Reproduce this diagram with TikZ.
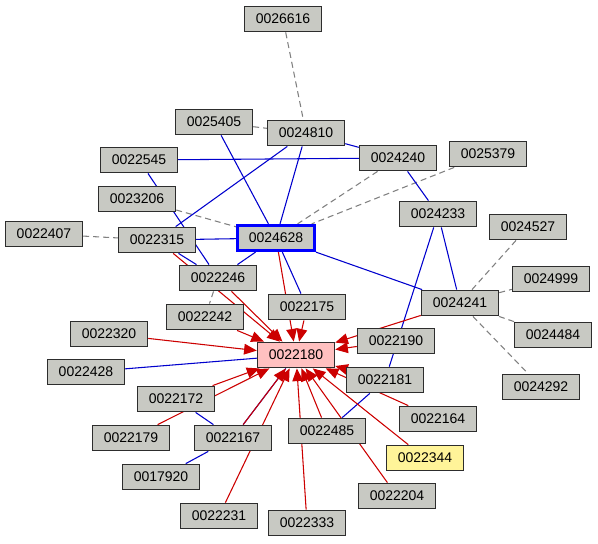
\documentclass[tikz,border=0pt]{standalone}
\usepackage{fontspec}
\setmainfont{Liberation Sans}
\usepackage{xcolor}
\usetikzlibrary{arrows.meta, backgrounds}

\definecolor{boxgray}{RGB}{200,201,195}
\definecolor{boxline}{RGB}{45,45,45}
\definecolor{targetpink}{RGB}{255,192,192}
\definecolor{sourceyellow}{RGB}{255,244,153}
\definecolor{linkblue}{RGB}{0,0,205}
\definecolor{citered}{RGB}{204,0,0}
\definecolor{weakgray}{RGB}{128,128,128}

\begin{document}
\begin{tikzpicture}[
          x=0.75pt, y=-0.75pt,
          box/.style={rectangle, draw=boxline, line width=1.1pt, fill=boxgray,
            minimum width=57.75pt, minimum height=19pt, inner sep=0pt,
            font=\fontsize{10.5}{12}\selectfont},
          link/.style={draw=linkblue, line width=0.8pt},
          cite/.style={draw=citered, line width=0.8pt, -{Triangle[length=9.5pt, width=8pt]}},
          weak/.style={draw=weakgray, line width=0.8pt, dash pattern=on 4.5pt off 3pt}
        ]
          \useasboundingbox (0,0) rectangle (598,543);

          % papers
          \node[box] (n0026616) at (283,19) {0026616};
          \node[box] (n0025405) at (214,122) {0025405};
          \node[box] (n0024810) at (306,133) {0024810};
          \node[box] (n0024240) at (398,158) {0024240};
          \node[box] (n0025379) at (488,154) {0025379};
          \node[box] (n0022545) at (139,160) {0022545};
          \node[box] (n0023206) at (137,199) {0023206};
          \node[box] (n0022407) at (44,234) {0022407};
          \node[box] (n0022315) at (157,240) {0022315};
          \node[box, draw=blue, line width=2.2pt] (n0024628) at (276,238) {0024628};
          \node[box] (n0024233) at (438,214) {0024233};
          \node[box] (n0024527) at (528,227) {0024527};
          \node[box] (n0024999) at (551,279) {0024999};
          \node[box] (n0024241) at (460,303) {0024241};
          \node[box] (n0022246) at (218,278) {0022246};
          \node[box] (n0022242) at (205,317) {0022242};
          \node[box] (n0022175) at (307,307) {0022175};
          \node[box] (n0022320) at (109,334) {0022320};
          \node[box] (n0022428) at (86,372) {0022428};
          \node[box, fill=targetpink] (n0022180) at (296,355) {0022180};
          \node[box] (n0022190) at (396,341) {0022190};
          \node[box] (n0022181) at (385,380) {0022181};
          \node[box] (n0024484) at (553,335) {0024484};
          \node[box] (n0024292) at (541,387) {0024292};
          \node[box] (n0022172) at (176,399) {0022172};
          \node[box] (n0022179) at (131,438) {0022179};
          \node[box] (n0022167) at (233,438) {0022167};
          \node[box] (n0017920) at (161,477) {0017920};
          \node[box] (n0022231) at (219,516) {0022231};
          \node[box] (n0022485) at (327,431) {0022485};
          \node[box] (n0022164) at (438,419) {0022164};
          \node[box, fill=sourceyellow] (n0022344) at (425,458) {0022344};
          \node[box] (n0022204) at (397,496) {0022204};
          \node[box] (n0022333) at (307,523) {0022333};

          \begin{pgfonlayer}{background}
            % weak links
            \draw[weak] (n0026616) -- (n0024810);
            \draw[weak] (n0025405) -- (n0024810);
            \draw[weak] (n0023206) -- (n0024628);
            \draw[weak] (n0022407) -- (n0022315);
            \draw[weak] (n0024240) -- (n0024628);
            \draw[weak] (n0025379) -- (n0024628);
            \draw[weak] (n0022246) -- (n0022242);
            \foreach \p in {0024527, 0024999, 0024484, 0024292}
              \draw[weak] (n0024241) -- (n\p);

            % links
            \draw[link] (n0025405) -- (n0024628);
            \draw[link] (n0024810) -- (n0024628);
            \draw[link] (n0024810) -- (n0022315);
            \draw[link] (n0024810) -- (n0024240);
            \draw[link] (n0022545) -- (n0024240);
            \draw[link] (n0022545) -- (n0022246);
            \draw[link] (n0022315) -- (n0024628);
            \draw[link] (n0022315) -- (n0022246);
            \draw[link] (n0024628) -- (n0022246);
            \draw[link] (n0024628) -- (n0022175);
            \draw[link] (n0024628) -- (n0024241);
            \draw[link] (n0024240) -- (n0024233);
            \draw[link] (n0024233) -- (n0024241);
            \draw[link] (n0024233) -- (n0022181);
            \draw[link] (n0022181) -- (n0022485);
            \draw[link] (n0022428) -- (n0022180);
            \draw[link] (n0022180) -- (n0022167);
            \draw[link] (n0022172) -- (n0022167);
            \draw[link] (n0022167) -- (n0017920);

            % citations
            \foreach \p in {0022315, 0022246, 0022242, 0022320, 0024628, 0022175,
                0024241, 0022190, 0022181, 0022164, 0022344, 0022204, 0022485,
                0022333, 0022231, 0022167, 0022172, 0022179}
              \draw[cite] (n\p) -- (n0022180);
          \end{pgfonlayer}
        \end{tikzpicture}
\end{document}
